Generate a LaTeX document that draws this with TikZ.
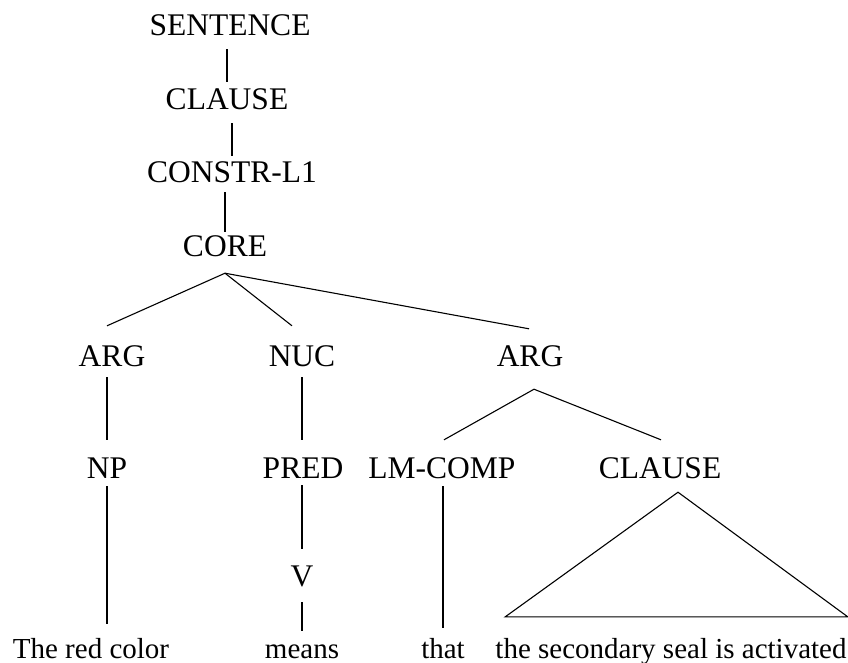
\documentclass[tikz,border=0pt]{standalone}
\usepackage{fontspec}
\setmainfont{Liberation Serif}
\usepackage{tikz}

\begin{document}
\begin{tikzpicture}[x=1pt,y=-1pt,
		cat/.style={font=\fontsize{31.5}{36}\selectfont,inner sep=0pt,text height=21pt,text depth=0pt,anchor=base},
		word/.style={font=\fontsize{29}{34}\selectfont,inner sep=0pt,text height=21pt,text depth=0pt,anchor=base},
		branch/.style={line width=1.1pt}]
			\useasboundingbox (0,0) rectangle (848,662);
			\node[cat] (sent) at (230,35) {SENTENCE};
			\node[cat] (cl) at (227,109) {CLAUSE};
			\node[cat] (constr) at (232,182) {CONSTR-L1};
			\node[cat] (core) at (225,256) {CORE};
			\node[cat] (arga) at (112,366) {ARG};
			\node[cat] (nuc) at (302,366) {NUC};
			\node[cat] (argb) at (530,366) {ARG};
			\node[cat] (np) at (107,478) {NP};
			\node[cat] (pred) at (303,478) {PRED};
			\node[cat] (lmc) at (442,478) {LM-COMP};
			\node[cat] (clb) at (660,478) {CLAUSE};
			\node[cat] (v) at (302,586) {V};
			\node[word] (red) at (91,658) {The red color};
			\node[word] (means) at (302,658) {means};
			\node[word] (that) at (443,658) {that};
			\node[word] (act) at (671,658) {the secondary seal is activated};
			
			\draw[branch,shorten <=14pt,shorten >=6pt] (sent.south -| cl.north) -- (cl.north);
			\draw[branch,shorten <=14pt,shorten >=5pt] (cl.south -| constr.north) -- (constr.north);
			\draw[branch,shorten <=10pt,shorten >=3pt] (constr.south -| core.north) -- (core.north);
			\draw[branch] ([yshift=-17]core.south) -- ([xshift=-5,yshift=19]arga.north);
			\draw[branch] ([yshift=-17]core.south) -- ([xshift=-10,yshift=19]nuc.north);
			\draw[branch] ([yshift=-17]core.south) -- ([xshift=-1,yshift=16]argb.north);
			\draw[branch,shorten <=11pt,shorten >=17pt] (arga.south -| np.north) -- (np.north);
			\draw[branch,shorten <=11pt,shorten >=17pt] (nuc.south) -- (nuc.south |- pred.north);
			\draw[branch] ([xshift=4,yshift=-23]argb.south) -- ([xshift=2,yshift=17]lmc.north);
			\draw[branch] ([xshift=4,yshift=-23]argb.south) -- ([xshift=1,yshift=17]clb.north);
			\draw[branch,shorten <=8pt,shorten >=13pt] (np.south) -- (np.south |- red.north);
			\draw[branch,shorten <=7pt,shorten >=16pt] (pred.south -| v.north) -- (v.north);
			\draw[branch,shorten <=16pt,shorten >=6pt] (v.south) -- (v.south |- means.north);
			\draw[branch,shorten <=8pt,shorten >=9pt] (lmc.south -| that.north) -- (that.north);
			\draw[branch] ([xshift=18,yshift=-14]clb.south) -- ([xshift=10,yshift=20]act.north west) -- ([xshift=1,yshift=20]act.north east) -- cycle;
		\end{tikzpicture}
\end{document}
